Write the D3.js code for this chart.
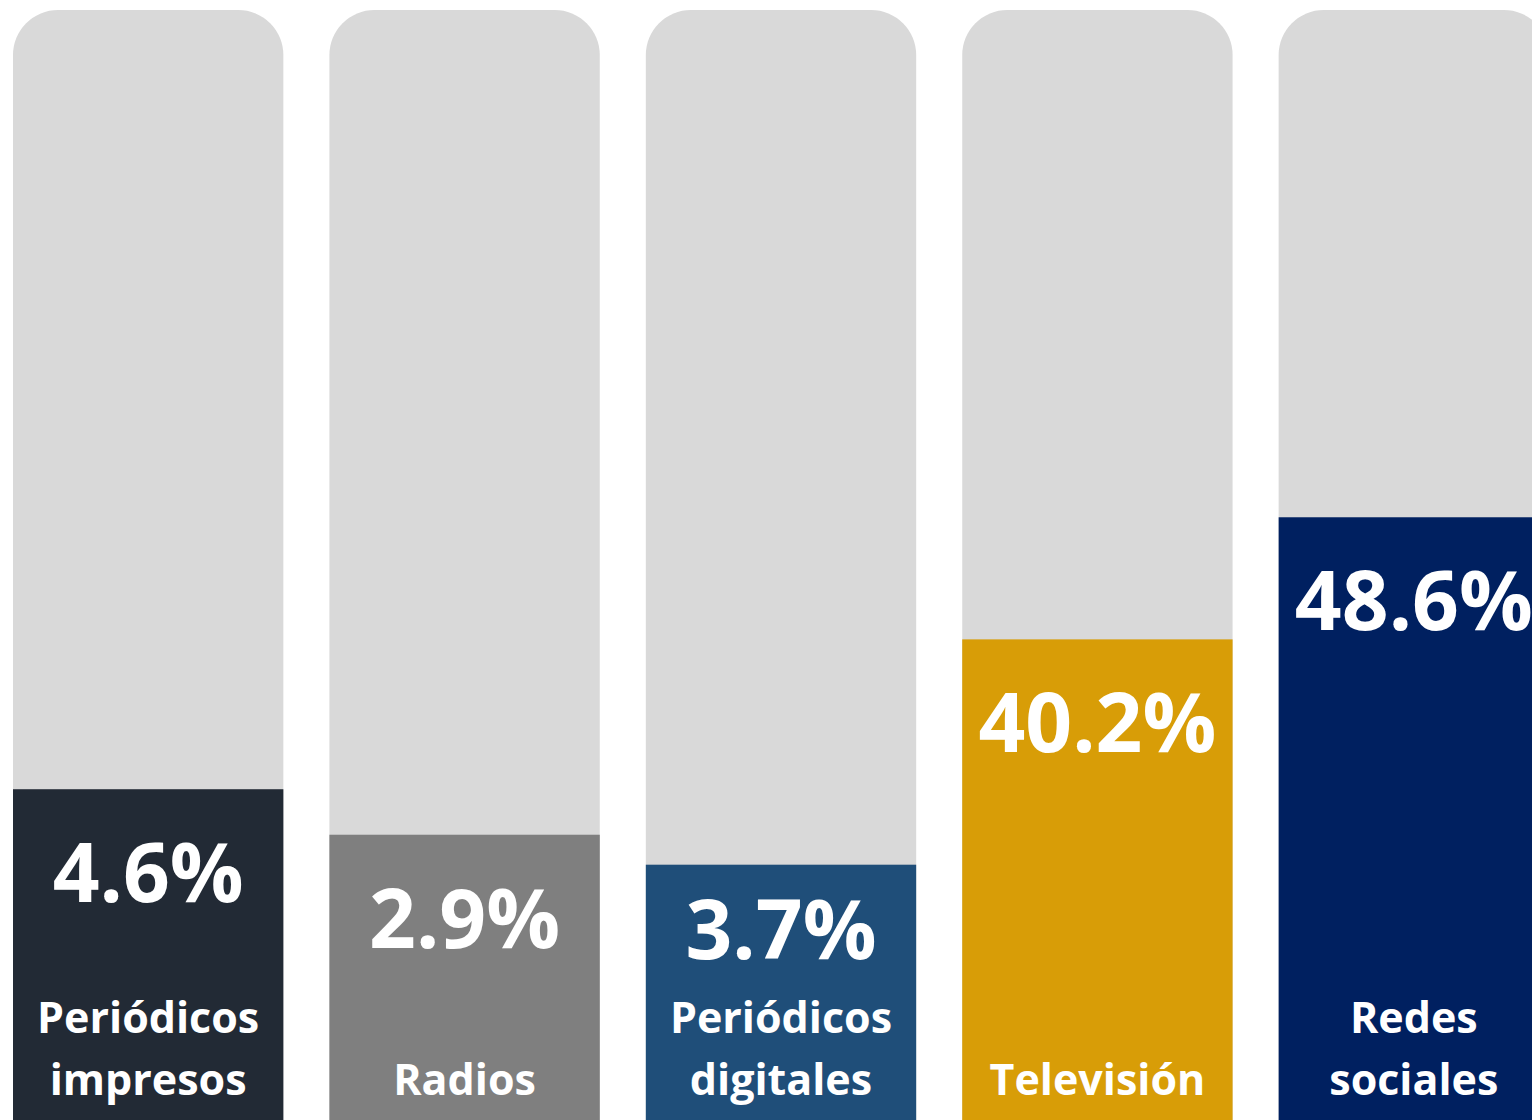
<!DOCTYPE html>
<html>
<head>
<meta charset="utf-8">
<script src="https://cdn.jsdelivr.net/npm/d3@7"></script>
<style>
  body { margin: 0; background: #ffffff; }
  svg { display: block; }
</style>
</head>
<body>
<script>
// categories, bottom labels (one entry per line) and printed percentages
var categories = ["impresos", "radios", "digitales", "tv", "redes"];
var labelLines = [["Periódicos", "impresos"], ["Radios"], ["Periódicos", "digitales"], ["Televisión"], ["Redes", "sociales"]];
var values = [4.6, 2.9, 3.7, 40.2, 48.6];
// fill level of each track as drawn in the picture (% of the grey track)
var fillLevels = [29.8, 25.7, 23.0, 43.3, 54.3];
var colors = ["#222a35", "#7f7f7f", "#1f4e79", "#d89d07", "#002060"];

var fullwidth = 1532;
var fullheight = 1120;

var svg = d3.select("body")
  .append("svg")
    .attr("width", fullwidth)
    .attr("height", fullheight)
    .style("overflow", "hidden");

// x scale, one band per track
var xscale = d3.scaleBand()
  .domain(categories)
  .range([13, 1549])
  .paddingInner(46 / 316);

// y scale, 0-100 of the track height
var yscale = d3.scaleLinear()
  .domain([0, 100])
  .range([fullheight, 10]);

// grey tracks with round tops (bottom runs off the page)
svg.selectAll("rect.track")
  .data(categories)
  .enter()
  .append("rect")
    .attr("class", "track")
    .attr("x", function(d) { return xscale(d); })
    .attr("y", yscale(100))
    .attr("width", xscale.bandwidth())
    .attr("height", yscale(0) - yscale(100) + 100)
    .attr("rx", 45)
    .attr("ry", 45)
    .style("fill", "#d9d9d9");

// coloured fills
svg.selectAll("rect.fill")
  .data(fillLevels)
  .enter()
  .append("rect")
    .attr("class", "fill")
    .attr("x", function(d, i) { return xscale(categories[i]); })
    .attr("y", function(d) { return yscale(d); })
    .attr("width", xscale.bandwidth())
    .attr("height", function(d) { return yscale(0) - yscale(d); })
    .style("fill", function(d, i) { return colors[i]; });

// category labels, bottom aligned
var lineHeight = 62;
var lastBaseline = 1095;

function firstBaseline(i) {
  return lastBaseline - (labelLines[i].length - 1) * lineHeight;
}

// percentages, below the top of the fill but kept clear of the label
svg.selectAll("text.value")
  .data(values)
  .enter()
  .append("text")
    .attr("class", "value")
    .attr("x", function(d, i) { return xscale(categories[i]) + xscale.bandwidth() / 2; })
    .attr("y", function(d, i) { return Math.min(yscale(fillLevels[i]) + 113, firstBaseline(i) - 74); })
    .attr("text-anchor", "middle")
    .style("font-family", "'Open Sans', sans-serif")
    .style("font-weight", 700)
    .style("font-size", "82px")
    .style("fill", "#ffffff")
    .text(function(d) { return d.toFixed(1) + "%"; });

var labels = svg.selectAll("text.label")
  .data(labelLines)
  .enter()
  .append("text")
    .attr("class", "label")
    .attr("text-anchor", "middle")
    .style("font-family", "'Open Sans', sans-serif")
    .style("font-weight", 700)
    .style("font-size", "43px")
    .style("fill", "#ffffff");

labels.each(function(lines, i) {
  var cx = xscale(categories[i]) + xscale.bandwidth() / 2;
  d3.select(this).selectAll("tspan")
    .data(lines)
    .enter()
    .append("tspan")
      .attr("x", cx)
      .attr("y", function(d, j) { return firstBaseline(i) + j * lineHeight; })
      .text(function(d) { return d; });
});
</script>
</body>
</html>
